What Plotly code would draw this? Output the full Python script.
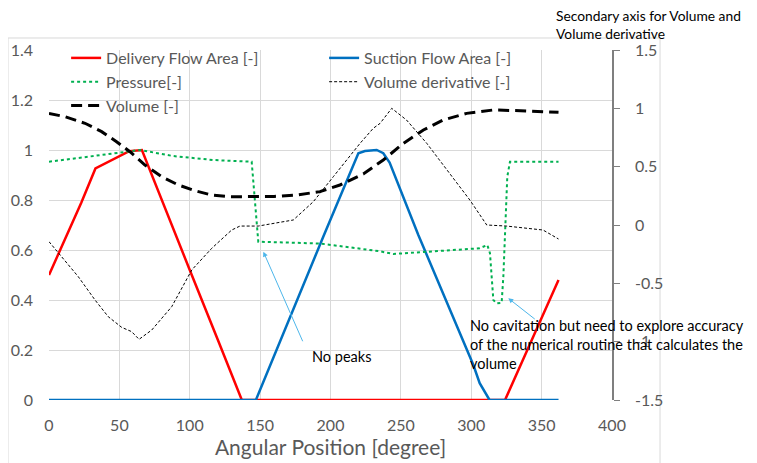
import plotly.graph_objects as go

# ---------------- data ----------------
delivery_x = [0, 23, 33, 45, 57, 66, 80, 100, 120, 137, 200, 250, 300, 324, 343, 362]
delivery_y = [0.5, 0.79, 0.926, 0.96, 0.995, 1.0, 0.80, 0.52, 0.24, 0.0, 0.0, 0.0, 0.0, 0.0, 0.24, 0.48]

suction_x = [0, 50, 100, 147, 195, 219.8, 224.5, 232.8, 237.5, 242, 262.4, 301.5, 306, 313, 340, 362]
suction_y = [0, 0, 0, 0, 0.655, 0.987, 0.996, 1.0, 0.987, 0.95, 0.66, 0.14, 0.067, 0.0, 0.0, 0.0]

pressure_x = [0, 36, 64.6, 88, 116.6, 144, 148.7, 192.5, 235, 244.6, 266, 306, 311.4, 313.3, 315.7, 318, 321.6,
              322.8, 325.6, 327.5, 362]
pressure_y = [0.953, 0.98, 1.0, 0.976, 0.96, 0.953, 0.633, 0.626, 0.595, 0.584, 0.592, 0.607, 0.62, 0.587, 0.40,
              0.387, 0.389, 0.493, 0.893, 0.953, 0.953]

volume_x = [0, 11.4, 25.6, 37.4, 48, 57.5, 68.2, 80, 91.9, 103.7, 115.6, 127.4, 139, 160, 176, 192.5, 206.7,
            223.3, 237.5, 251.8, 266, 280, 296.7, 315.7, 335, 362]
volume_y = [0.957, 0.928, 0.872, 0.80, 0.714, 0.628, 0.514, 0.414, 0.343, 0.294, 0.257, 0.243, 0.243, 0.245,
            0.257, 0.286, 0.343, 0.437, 0.557, 0.70, 0.814, 0.90, 0.957, 0.986, 0.98, 0.966]

vderiv_x = [0, 9, 20.8, 32.7, 42.1, 51.6, 58.7, 64, 73, 87.2, 101.4, 115.6, 129.8, 135.7, 148.7, 173.6, 187.8,
            202, 221, 230.4, 235.2, 243.5, 254, 268.4, 282.6, 299, 311, 325, 351, 362]
vderiv_y = [-0.143, -0.271, -0.443, -0.643, -0.786, -0.877, -0.914, -0.98, -0.90, -0.70, -0.386, -0.20, -0.043,
            -0.009, -0.009, 0.043, 0.20, 0.414, 0.70, 0.829, 0.871, 1.0, 0.90, 0.70, 0.471, 0.214, 0.0, -0.009,
            -0.043, -0.12]

x_ticks = [0, 50, 100, 150, 200, 250, 300, 350, 400]
y_ticks = [0, 0.2, 0.4, 0.6, 0.8, 1.0, 1.2, 1.4]
y_ticktext = ["0", "0.2", "0.4", "0.6", "0.8", "1", "1.2", "1.4"]
y2_ticks = [-1.5, -1.0, -0.5, 0, 0.5, 1.0, 1.5]
y2_ticktext = ["-1.5", "-1", "-0.5", "0", "0.5", "1", "1.5"]

FONT = "Lato"
GRAY = "#595959"
GRID = "#d9d9d9"
ARROW = "#4db6ea"

fig = go.Figure()
fig.add_trace(go.Scatter(x=delivery_x, y=delivery_y, mode="lines", name="Delivery Flow Area [-]",
                         line=dict(color="#ff0000", width=2.5)))
fig.add_trace(go.Scatter(x=suction_x, y=suction_y, mode="lines", name="Suction Flow Area [-]",
                         line=dict(color="#0070c0", width=2.5)))
fig.add_trace(go.Scatter(x=pressure_x, y=pressure_y, mode="lines", name="Pressure[-]",
                         line=dict(color="#00b050", width=2, dash="dot")))
fig.add_trace(go.Scatter(x=vderiv_x, y=vderiv_y, mode="lines", name="Volume derivative [-]", yaxis="y2",
                         line=dict(color="#000000", width=1, dash="3px,2px")))
fig.add_trace(go.Scatter(x=volume_x, y=volume_y, mode="lines", name="Volume [-]", yaxis="y2",
                         line=dict(color="#000000", width=3, dash="11px,6px")))

# The page body keeps an 8px margin, so the figure is drawn 8px smaller and offset.
fig.update_layout(
    width=749, height=455,
    margin=dict(l=41, r=145, t=42, b=63, autoexpand=False),
    paper_bgcolor="white", plot_bgcolor="white",
    font=dict(family=FONT, size=16, color=GRAY),
    showlegend=True,
    legend=dict(orientation="h", x=0.0304, y=1.0257, xanchor="left", yanchor="top",
                entrywidth=213, entrywidthmode="pixels", bgcolor="rgba(0,0,0,0)",
                font=dict(family=FONT, size=16, color=GRAY), tracegroupgap=0),
    xaxis=dict(range=[0, 400], tickvals=x_ticks, showgrid=True, gridcolor=GRID, gridwidth=1,
               zeroline=False, showline=False, ticks="", ticklabelstandoff=14, automargin=False,
               tickfont=dict(size=16, color=GRAY),
               title=dict(text="Angular Position [degree]", font=dict(size=21, color=GRAY), standoff=4)),
    yaxis=dict(range=[0, 1.4], tickvals=y_ticks, ticktext=y_ticktext, showgrid=True, gridcolor=GRID,
               zeroline=False, showline=False, ticks="", ticklabelstandoff=15, automargin=False,
               tickfont=dict(size=16, color=GRAY)),
    yaxis2=dict(range=[-1.5, 1.5], overlaying="y", side="right", tickvals=y2_ticks, ticktext=y2_ticktext,
                showgrid=False, zeroline=False, showline=True, linecolor="#7f7f7f", linewidth=1.5,
                ticks="outside", ticklen=6, tickcolor="#7f7f7f", ticklabelstandoff=12, automargin=False,
                tickfont=dict(size=16, color=GRAY)),
    shapes=[dict(type="rect", xref="paper", yref="paper", x0=-0.0728, x1=1.0853, y0=-0.5, y1=1.0343,
                 line=dict(color=GRID, width=1), layer="below")],
)

ann_font = dict(family=FONT, size=14.5, color="#000000")
fig.add_annotation(xref="paper", yref="paper", x=0.897, y=1.074, xanchor="left", yanchor="middle",
                   align="left", showarrow=False, font=dict(family=FONT, size=13.8, color="#000000"),
                   text="Secondary axis for Volume and<br>Volume derivative")
fig.add_annotation(xref="x", yref="y2", x=380.1, y=1.52, ax=-92, ay=63, text="", showarrow=True,
                   arrowhead=2, arrowsize=1, arrowwidth=1, arrowcolor=ARROW)
fig.add_annotation(xref="x", yref="y2", x=396.9, y=1.52, ax=-166, ay=117, text="", showarrow=True,
                   arrowhead=2, arrowsize=1, arrowwidth=1, arrowcolor=ARROW)
fig.add_annotation(xref="paper", yref="paper", x=0.4636, y=0.1257, xanchor="left", yanchor="middle",
                   showarrow=False, font=ann_font, text="No peaks")
fig.add_annotation(xref="x", yref="y", x=152.3, y=0.593, ax=40, ay=91, text="", showarrow=True,
                   arrowhead=2, arrowsize=1, arrowwidth=1, arrowcolor=ARROW)
fig.add_annotation(xref="paper", yref="paper", x=0.744, y=0.16, xanchor="left", yanchor="middle",
                   align="left", showarrow=False, font=ann_font,
                   text="No cavitation but need to explore accuracy<br>of the numerical routine that calculates the<br>volume")
fig.add_annotation(xref="x", yref="y", x=326.3, y=0.407, ax=28, ay=22, text="", showarrow=True,
                   arrowhead=2, arrowsize=1, arrowwidth=1, arrowcolor=ARROW)

fig.write_html("out.html")
